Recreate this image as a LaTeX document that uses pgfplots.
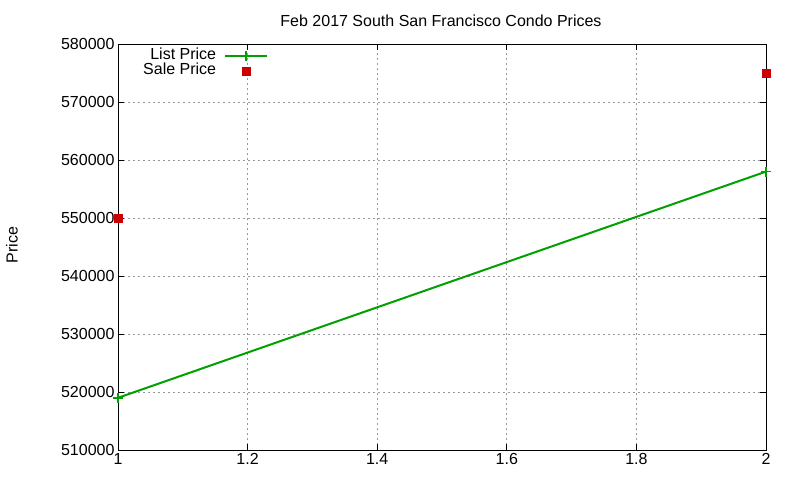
\documentclass[border=0pt]{standalone}
\usepackage{fontspec}
\setmainfont{Liberation Sans}
\usepackage{pgfplots}
\pgfplotsset{compat=1.18}
\definecolor{listgreen}{RGB}{0,160,0}
\definecolor{salered}{RGB}{204,0,0}
\begin{document}
\begin{tikzpicture}
\useasboundingbox (-118pt,-30pt) rectangle (682pt,450pt);
\begin{axis}[
    at={(0pt,0pt)}, anchor=south west,
    scale only axis,
    width=648pt, height=406pt,
    xmin=1, xmax=2, ymin=510000, ymax=580000,
    xtick={1,1.2,1.4,1.6,1.8,2},
    ytick={510000,520000,530000,540000,550000,560000,570000,580000},
    scaled y ticks=false,
    yticklabel style={/pgf/number format/.cd, fixed, 1000 sep={}},
    /pgf/number format/assume math mode=true,
    tick label style={font=\fontsize{16}{18}\selectfont},
    tick align=inside,
    major tick length=6pt,
    axis line style={black, line width=1pt},
    every tick/.style={black, line width=1pt},
    grid=major,
    major grid style={gray!80, line width=0.8pt, dash pattern=on 2pt off 3pt},
    legend style={at={(0.232,0.99)}, anchor=north east, draw=none, fill=none,
        font=\fontsize{16}{18}\selectfont, row sep=0pt, inner sep=0pt,
        nodes={inner sep=0pt, text height=11pt, text depth=4pt}},
    legend plot pos=right,
    legend cell align=right,
    legend image code/.code={
        \path (0pt,0pt);
        \draw[#1, mark repeat=2, mark phase=2] plot coordinates {(8pt,0pt) (29pt,0pt) (50pt,0pt)};
    },
]
\addplot[listgreen, line width=2pt, mark=+, mark size=5pt, mark options={line width=1.5pt}]
    coordinates {(1,519000) (2,558000)};
\addlegendentry{List Price}
\addplot[salered, only marks, mark=square*, mark size=4pt]
    coordinates {(1,550000) (2,575000)};
\addlegendentry{Sale Price}
\end{axis}
\node[font=\fontsize{16}{18}\selectfont] at (323pt,429pt) {Feb 2017 South San Francisco Condo Prices};
\node[font=\fontsize{16}{18}\selectfont, rotate=90] at (-106pt,205pt) {Price};
\end{tikzpicture}
\end{document}
